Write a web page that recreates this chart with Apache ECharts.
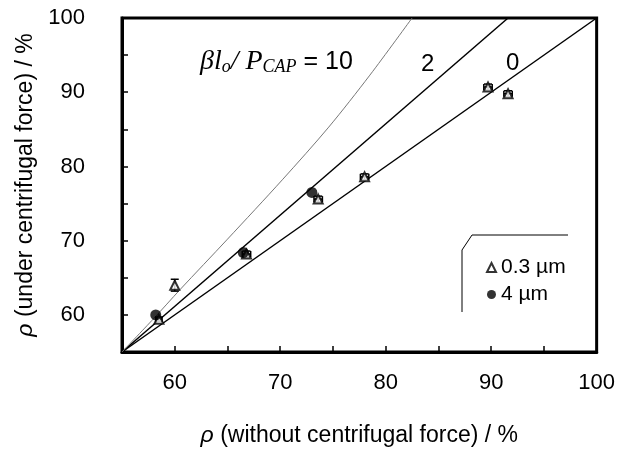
<!DOCTYPE html>
<html>
<head>
<meta charset="utf-8">
<script src="https://cdn.jsdelivr.net/npm/echarts@6/dist/echarts.min.js"></script>
<style>
  html, body { margin: 0; padding: 0; background: #fff; }
  #main { width: 618px; height: 466px; }
</style>
</head>
<body>
<div id="main"></div>
<script>
// 0.3 um particles (open triangles, with error bars)
var triX = [58.5, 60.0, 66.8, 73.6, 78.0, 89.7, 91.6];
var triY = [59.4, 64.0, 68.2, 75.6, 78.6, 90.7, 89.8];
var triErrX = [0.3, 0.0, 0.4, 0.4, 0.4, 0.4, 0.4];
var triErrY = [0.3, 0.8, 0.4, 0.4, 0.4, 0.4, 0.4];
// 4 um particles (filled circles)
var dotX = [58.2, 66.5, 73.0];
var dotY = [60.0, 68.4, 76.5];
// model lines, beta*lo/Pcap = 0, 2, 10
var line0X = [55, 100];
var line0Y = [55, 100];
var line2X = [55, 91.6];
var line2Y = [55, 100];
var line10X = [55, 58, 60.5, 65, 70.2, 74.6, 78.5, 82.5];
var line10Y = [55, 59.5, 63.4, 70.2, 78.2, 85.3, 92.3, 100];

function pairs(xs, ys) {
  return xs.map(function (x, i) { return [x, ys[i]]; });
}

var font = 'Liberation Sans, Arial, sans-serif';
var myChart = echarts.init(document.getElementById('main'));

var axisCommon = {
  type: 'value',
  min: 55,
  max: 100,
  interval: 5,
  axisLine: { show: true, lineStyle: { color: '#000', width: 3 } },
  axisTick: { show: true, inside: true, length: 6, lineStyle: { color: '#000', width: 1.5 } },
  splitLine: { show: false },
  nameLocation: 'middle',
  nameTextStyle: {
    fontFamily: font, fontSize: 23, color: '#000',
    rich: { r: { fontFamily: font, fontStyle: 'italic', fontSize: 23, color: '#000' } }
  },
  axisLabel: {
    fontFamily: font, fontSize: 22, color: '#000',
    formatter: function (v) { return v % 10 === 0 ? String(v) : ''; }
  }
};

var option = {
  animation: false,
  backgroundColor: '#fff',
  grid: { left: 122, right: 18, top: 18, bottom: 114, show: true, borderColor: '#000', borderWidth: 3 },
  xAxis: echarts.util.merge({
    name: '{r|ρ} (without centrifugal force) / %',
    nameGap: 72,
    axisLabel: { margin: 20 }
  }, axisCommon),
  yAxis: echarts.util.merge({
    name: '{r|ρ} (under centrifugal force) / %',
    nameGap: 80,
    axisLabel: { margin: 37 }
  }, axisCommon),
  legend: {
    data: ['0.3 µm', '4 µm'],
    orient: 'vertical',
    left: 481,
    top: 252,
    itemWidth: 9,
    itemHeight: 9,
    itemGap: 6,
    textStyle: { fontFamily: font, fontSize: 21, color: '#000' }
  },
  graphic: [
    {
      type: 'polyline',
      shape: { points: [[462, 312], [462, 250], [472, 235], [568, 235]] },
      style: { stroke: '#000', lineWidth: 1, fill: null },
      silent: true
    },
    {
      type: 'text',
      left: 200, top: 48,
      style: {
        text: '{i|βl}{s|o}{i|/ P}{s|CAP}{n| = 10}',
        rich: {
          i: { fontFamily: 'Liberation Serif, serif', fontStyle: 'italic', fontSize: 28, color: '#000' },
          s: { fontFamily: 'Liberation Serif, serif', fontStyle: 'italic', fontSize: 18, color: '#000', padding: [11, 0, 0, 0] },
          n: { fontFamily: font, fontSize: 25, color: '#000' }
        }
      }
    },
    { type: 'text', left: 421, top: 52, style: { text: '2', fontFamily: font, fontSize: 24, fill: '#000' } },
    { type: 'text', left: 506, top: 51, style: { text: '0', fontFamily: font, fontSize: 24, fill: '#000' } }
  ],
  series: [
    {
      name: 'ratio 0', type: 'line', data: pairs(line0X, line0Y),
      symbol: 'none', lineStyle: { color: '#000', width: 1.5 }, z: 2
    },
    {
      name: 'ratio 2', type: 'line', data: pairs(line2X, line2Y),
      symbol: 'none', lineStyle: { color: '#000', width: 1.5 }, z: 2
    },
    {
      name: 'ratio 10', type: 'line', data: pairs(line10X, line10Y), smooth: 0.3,
      symbol: 'none', lineStyle: { color: '#777', width: 1 }, z: 2
    },
    {
      name: 'err', type: 'custom', z: 3,
      data: triX.map(function (x, i) { return [x, triY[i], triErrX[i], triErrY[i]]; }),
      renderItem: function (params, api) {
        var x = api.value(0), y = api.value(1), ex = api.value(2), ey = api.value(3);
        var c = api.coord([x, y]);
        var top = api.coord([x, y + ey]), bot = api.coord([x, y - ey]);
        var lft = api.coord([x - ex, y]), rgt = api.coord([x + ex, y]);
        var st = { stroke: '#000', lineWidth: 1.5 };
        var kids = [];
        if (ey > 0) {
          kids.push({ type: 'line', shape: { x1: c[0], y1: top[1], x2: c[0], y2: bot[1] }, style: st });
          kids.push({ type: 'line', shape: { x1: c[0] - 4, y1: top[1], x2: c[0] + 4, y2: top[1] }, style: st });
          kids.push({ type: 'line', shape: { x1: c[0] - 4, y1: bot[1], x2: c[0] + 4, y2: bot[1] }, style: st });
        }
        if (ex > 0) {
          kids.push({ type: 'line', shape: { x1: lft[0], y1: c[1], x2: rgt[0], y2: c[1] }, style: st });
          kids.push({ type: 'line', shape: { x1: lft[0], y1: c[1] - 3, x2: lft[0], y2: c[1] + 3 }, style: st });
          kids.push({ type: 'line', shape: { x1: rgt[0], y1: c[1] - 3, x2: rgt[0], y2: c[1] + 3 }, style: st });
        }
        return { type: 'group', children: kids };
      }
    },
    {
      name: '0.3 µm', type: 'scatter', data: pairs(triX, triY), z: 4,
      symbol: 'emptyTriangle', symbolSize: 9,
      itemStyle: { color: '#000', borderColor: '#000', borderWidth: 1.5 }
    },
    {
      name: '4 µm', type: 'scatter', data: pairs(dotX, dotY), z: 5,
      symbol: 'circle', symbolSize: 11,
      itemStyle: { color: '#000' }
    }
  ]
};

myChart.setOption(option);
</script>
</body>
</html>
